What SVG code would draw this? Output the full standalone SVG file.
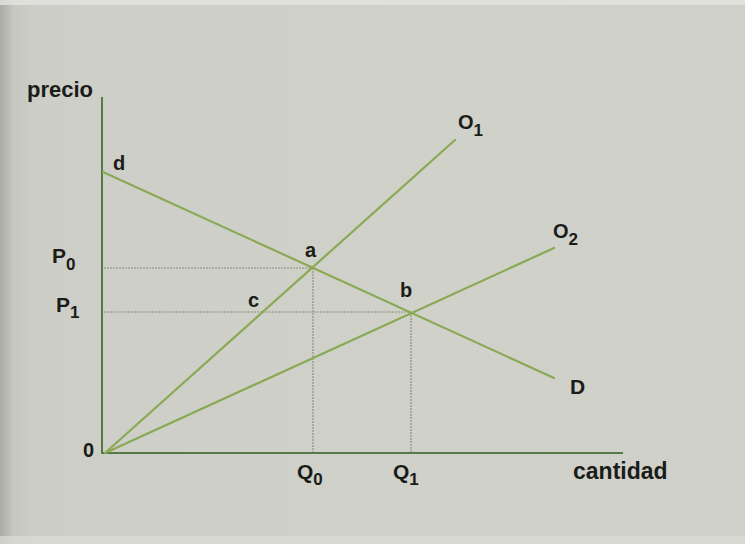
<svg xmlns="http://www.w3.org/2000/svg" width="745" height="544" viewBox="0 0 745 544">
  <defs>
    <linearGradient id="bg" x1="0" y1="0" x2="1" y2="0">
      <stop offset="0" stop-color="#a9aaa4"/>
      <stop offset="0.018" stop-color="#c6c7c0"/>
      <stop offset="0.05" stop-color="#cdcec7"/>
      <stop offset="0.6" stop-color="#d0d1c9"/>
      <stop offset="1" stop-color="#cfd0c9"/>
    </linearGradient>
    <style>
      .lbl { font-family: "Liberation Sans", Arial, sans-serif; font-weight: bold; fill: #1a1c18; }
      .curve { stroke: #8aa955; stroke-width: 2.2; fill: none; stroke-linecap: round; }
      .axis { stroke: #557a48; stroke-width: 2; fill: none; }
      .guide { stroke: #9fa595; stroke-width: 1.7; fill: none; stroke-dasharray: 2 1; }
    </style>
  </defs>

  <rect x="0" y="0" width="745" height="544" fill="url(#bg)"/>
  <rect x="0" y="0" width="745" height="5" fill="#e4e5e0" opacity="0.8"/>
  <rect x="0" y="536" width="745" height="8" fill="#dcddd7" opacity="0.7"/>

  <g id="connectors">
    <g id="guides">
      <line class="guide" x1="104" y1="268" x2="313" y2="268"/>
      <line class="guide" x1="104" y1="312" x2="411" y2="312"/>
      <line class="guide" x1="313" y1="268" x2="313" y2="452"/>
      <line class="guide" x1="411" y1="312" x2="411" y2="452"/>
    </g>
    <g id="axes">
      <line class="axis" x1="102" y1="97" x2="102" y2="454"/>
      <line class="axis" x1="102" y1="453" x2="623" y2="453"/>
    </g>
    <line id="curve-D" class="curve" x1="103" y1="172" x2="554" y2="378"/>
    <line id="curve-O1" class="curve" x1="105" y1="453" x2="455" y2="140"/>
    <line id="curve-O2" class="curve" x1="105" y1="453" x2="554" y2="248"/>
  </g>

  <g id="label-precio"><text class="lbl" x="27" y="97" font-size="22">precio</text></g>
  <g id="label-cantidad"><text class="lbl" x="573" y="479" font-size="23">cantidad</text></g>
  <g id="label-origin"><text class="lbl" x="83" y="457" font-size="20">0</text></g>
  <g id="label-P0"><text class="lbl" x="52" y="263" font-size="21">P<tspan font-size="17" dy="7">0</tspan></text></g>
  <g id="label-P1"><text class="lbl" x="56" y="312" font-size="21">P<tspan font-size="17" dy="6">1</tspan></text></g>
  <g id="label-Q0"><text class="lbl" x="297" y="479" font-size="21">Q<tspan font-size="17" dy="6">0</tspan></text></g>
  <g id="label-Q1"><text class="lbl" x="393" y="479" font-size="21">Q<tspan font-size="17" dy="6">1</tspan></text></g>
  <g id="label-O1"><text class="lbl" x="458" y="129" font-size="20">O<tspan font-size="17" dy="7">1</tspan></text></g>
  <g id="label-O2"><text class="lbl" x="553" y="238" font-size="20">O<tspan font-size="17" dy="7">2</tspan></text></g>
  <g id="label-D"><text class="lbl" x="570" y="394" font-size="21">D</text></g>
  <g id="point-a"><text class="lbl" x="305" y="257" font-size="20">a</text></g>
  <g id="point-b"><text class="lbl" x="400" y="297" font-size="20">b</text></g>
  <g id="point-c"><text class="lbl" x="248" y="307" font-size="20">c</text></g>
  <g id="point-d"><text class="lbl" x="113" y="170" font-size="20">d</text></g>
</svg>
